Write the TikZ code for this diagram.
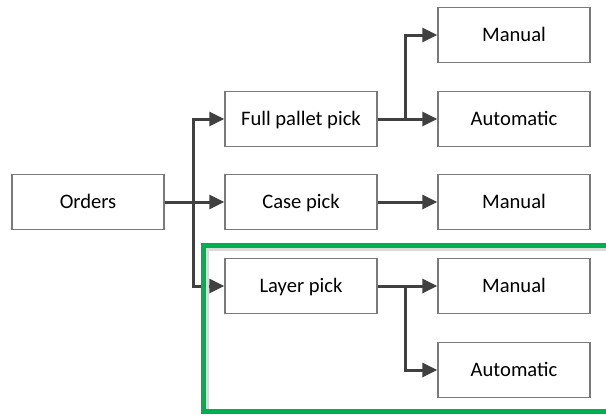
\documentclass[tikz,border=0pt]{standalone}
\usepackage{fontspec}
\setmainfont{Carlito}
\usetikzlibrary{arrows.meta}
\definecolor{boxline}{HTML}{7A7A7A}
\definecolor{connline}{HTML}{404040}
\definecolor{framegreen}{HTML}{00B050}
\definecolor{shadowgray}{HTML}{DADADA}
\tikzset{
  box/.style={draw=boxline, line width=1.3pt, fill=white, minimum width=152pt,
    minimum height=55pt, inner sep=0pt, text height=13.3pt, text depth=0pt,
    font=\fontsize{20.6}{24}\selectfont},
  conn/.style={draw=connline, line width=3pt, line join=miter,
    -{Triangle[length=15pt,width=14pt]}}
}
\begin{document}
\begin{tikzpicture}[x=1pt,y=-1pt]
  \clip (0,0) rectangle (606,416);
  \useasboundingbox (0,0) rectangle (606,416);

  % level 0
  \node[box] (orders) at (88,202) {Orders};
  % level 1
  \node[box] (fp)    at (301,119) {Full pallet pick};
  \node[box] (case)  at (301,202) {Case pick};
  \node[box] (layer) at (301,286) {Layer pick};
  % level 2
  \node[box] (m1) at (514,35)  {Manual};
  \node[box] (a1) at (514,119) {Automatic};
  \node[box] (m2) at (514,202) {Manual};
  \node[box] (m3) at (514,286) {Manual};
  \node[box] (a3) at (514,370) {Automatic};

  % branch points
  \coordinate (j1) at (193,202);
  \coordinate (j2) at (405,119);
  \coordinate (j3) at (405,286);

  % connectors from Orders
  \draw[conn] (orders.east) -- (case.west);
  \draw[conn] (j1) |- (fp.west);
  \draw[conn] (j1) |- (layer.west);
  % Full pallet pick
  \draw[conn] (fp.east) -- (a1.west);
  \draw[conn] (j2) |- (m1.west);
  % Case pick
  \draw[conn] (case.east) -- (m2.west);
  % Layer pick
  \draw[conn] (layer.east) -- (m3.west);
  \draw[conn] (j3) |- (a3.west);

  % highlight frame around the layer-pick branch
  \draw[shadowgray, line width=3pt] (207.5,411) -- (207.5,249.5) -- (620,249.5);
  \draw[framegreen, line width=5pt] (620,245.5) -- (203.5,245.5) -- (203.5,411.5) -- (620,411.5);
\end{tikzpicture}
\end{document}
